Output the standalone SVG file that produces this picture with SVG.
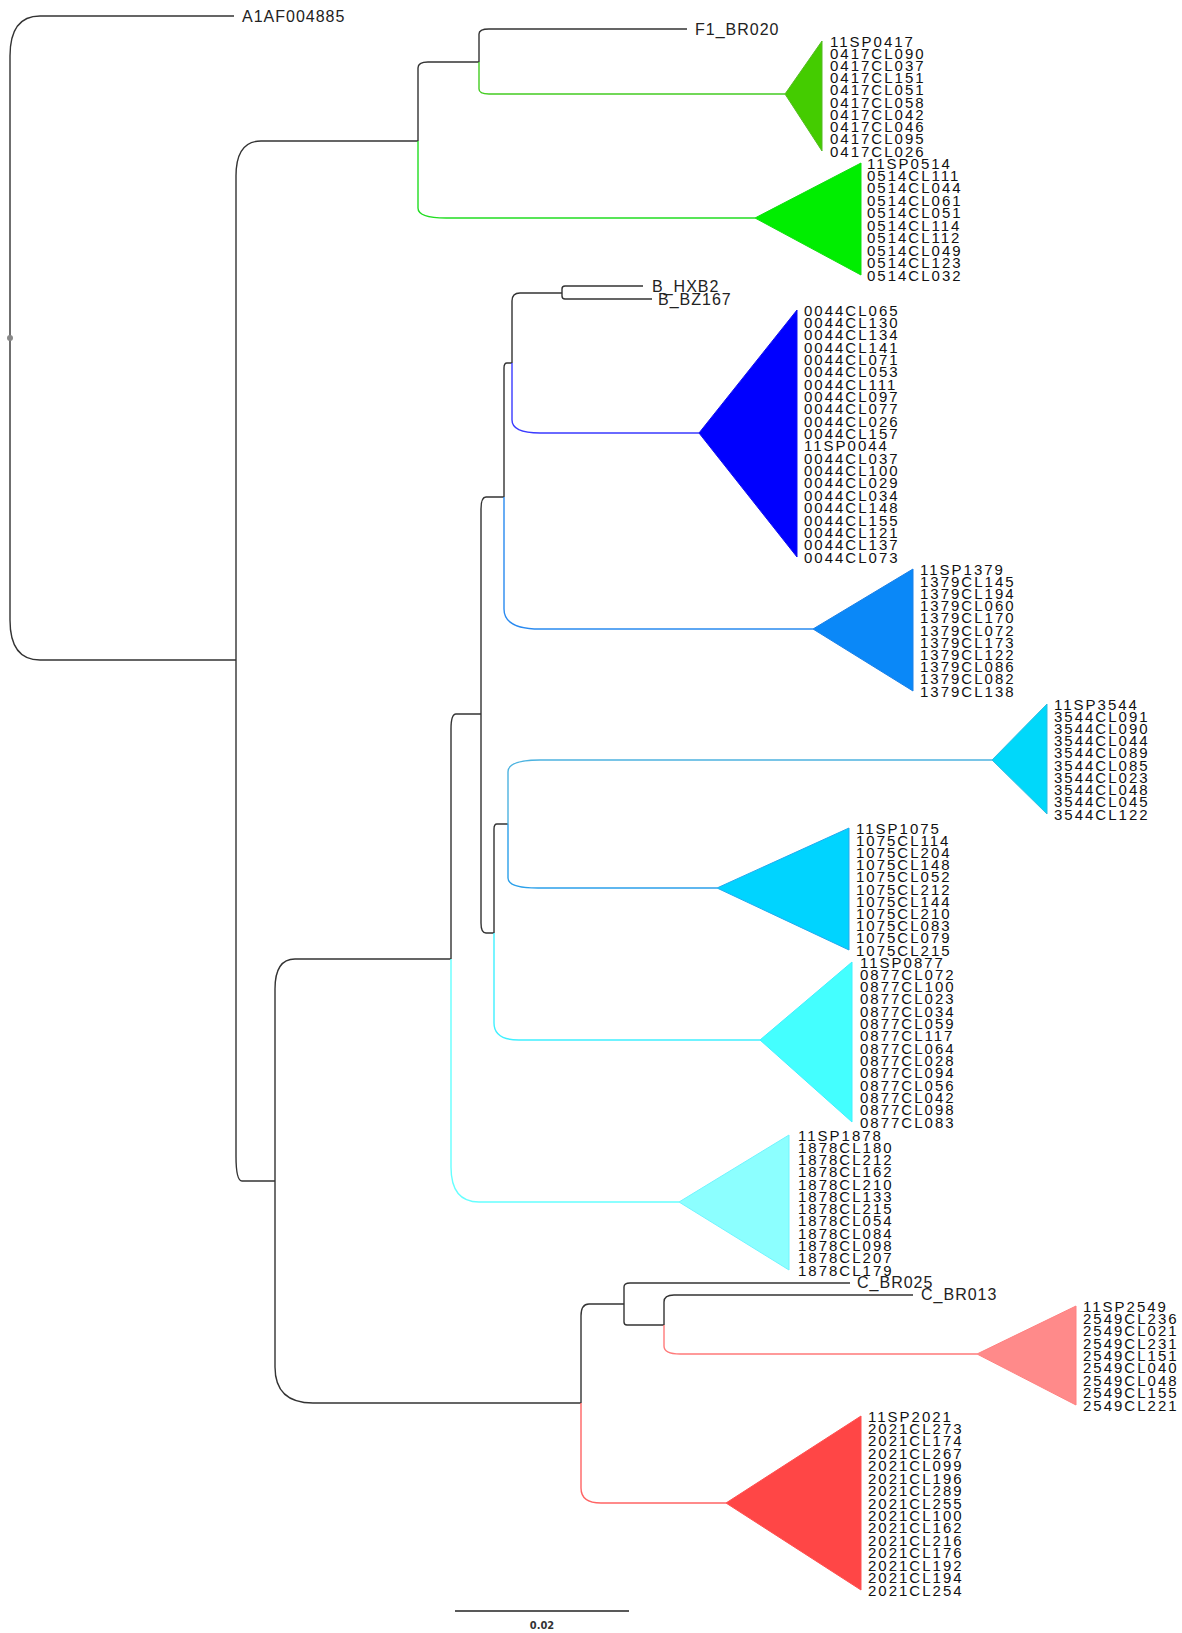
<svg xmlns="http://www.w3.org/2000/svg" width="1182" height="1633" viewBox="0 0 1182 1633">
<style>
.br{fill:none;stroke:#333;stroke-width:1.4}
.lf{font-family:"Liberation Sans",Arial,sans-serif;font-size:16px;letter-spacing:1px;fill:#222}
.cl{font-family:"Liberation Sans",Arial,sans-serif;font-size:15px;letter-spacing:2px;fill:#111}
.sc{font-family:"DejaVu Sans Condensed","Liberation Sans",sans-serif;font-size:11px;font-weight:bold;fill:#333}
</style>
<rect width="1182" height="1633" fill="#fff"/>
<g id="connectors">
<path class="br" d="M10 338 V56 Q10 16 40 16 H234"/>
<path class="br" d="M10 338 V620 Q10 660 40 660 H236"/>
<path class="br" d="M236 660 V176 Q236 141 261 141 H418"/>
<path class="br" d="M236 660 V1156 Q236 1181 242 1181 H275"/>
<path class="br" d="M418 141 V68 Q418 62 428 62 H479"/>
<path class="br" style="stroke:#22dd22" d="M418 141 V208 Q418 218 446 218 H755"/>
<path class="br" d="M479 62 V34 Q479 29 489 29 H687"/>
<path class="br" style="stroke:#44cc22" d="M479 62 V89 Q479 94 489 94 H785"/>
<path class="br" d="M275 1181 V989 Q275 959 295 959 H451"/>
<path class="br" d="M275 1181 V1367 Q275 1403 313 1403 H581"/>
<path class="br" d="M451 959 V729 Q451 714 456 714 H481"/>
<path class="br" style="stroke:#66ffff" d="M451 959 V1167 Q451 1202 479 1202 H679"/>
<path class="br" d="M481 714 V509 Q481 497 486 497 H504"/>
<path class="br" d="M481 714 V923 Q481 933 486 933 H494"/>
<path class="br" d="M504 497 V368 Q504 363 507 363 H512"/>
<path class="br" style="stroke:#2a8af0" d="M504 497 V609 Q504 629 540 629 H813"/>
<path class="br" d="M512 363 V301 Q512 293 520 293 H562"/>
<path class="br" style="stroke:#3a3aff" d="M512 363 V420 Q512 433 540 433 H699"/>
<path class="br" d="M562 293 V289 Q562 286 565 286 H643"/>
<path class="br" d="M562 293 V296 Q562 299 565 299 H652"/>
<path class="br" d="M494 933 V829 Q494 824 497 824 H508"/>
<path class="br" style="stroke:#40f0ff" d="M494 933 V1023 Q494 1040 519 1040 H760"/>
<path class="br" style="stroke:#4db3e0" d="M508 824 V772 Q508 760 540 760 H992"/>
<path class="br" style="stroke:#2ba0ea" d="M508 824 V878 Q508 888 538 888 H717"/>
<path class="br" d="M581 1403 V1316 Q581 1304 589 1304 H624"/>
<path class="br" style="stroke:#ff6464" d="M581 1403 V1488 Q581 1503 601 1503 H726"/>
<path class="br" d="M624 1304 V1287 Q624 1283 630 1283 H850"/>
<path class="br" d="M624 1304 V1322 Q624 1325 627 1325 H664"/>
<path class="br" d="M664 1325 V1302 Q664 1295 674 1295 H913"/>
<path class="br" style="stroke:#ff7a7a" d="M664 1325 V1346 Q664 1354 680 1354 H977"/>
</g>
<g id="root"><circle cx="10" cy="338" r="3" fill="#888"/></g>
<g id="A1AF004885"><text class="lf" x="242" y="22">A1AF004885</text></g>
<g id="F1_BR020"><text class="lf" x="695" y="35">F1_BR020</text></g>
<g id="B_HXB2"><text class="lf" x="652" y="292">B_HXB2</text></g>
<g id="B_BZ167"><text class="lf" x="658" y="305">B_BZ167</text></g>
<g id="C_BR025"><text class="lf" x="857" y="1288">C_BR025</text></g>
<g id="C_BR013"><text class="lf" x="921" y="1300">C_BR013</text></g>
<g id="clade0417">
<polygon points="785,94 822,41 822,151" fill="#44cc00" stroke="#55bb22"/>
<text class="cl"><tspan x="830" y="46.5">11SP0417</tspan><tspan x="830" y="58.7">0417CL090</tspan><tspan x="830" y="70.9">0417CL037</tspan><tspan x="830" y="83.2">0417CL151</tspan><tspan x="830" y="95.4">0417CL051</tspan><tspan x="830" y="107.6">0417CL058</tspan><tspan x="830" y="119.8">0417CL042</tspan><tspan x="830" y="132.1">0417CL046</tspan><tspan x="830" y="144.3">0417CL095</tspan><tspan x="830" y="156.5">0417CL026</tspan></text>
</g>
<g id="clade0514">
<polygon points="755,218 861,163 861,275" fill="#00ee00" stroke="#11dd11"/>
<text class="cl"><tspan x="867" y="168.5">11SP0514</tspan><tspan x="867" y="180.9">0514CL111</tspan><tspan x="867" y="193.4">0514CL044</tspan><tspan x="867" y="205.8">0514CL061</tspan><tspan x="867" y="218.3">0514CL051</tspan><tspan x="867" y="230.7">0514CL114</tspan><tspan x="867" y="243.2">0514CL112</tspan><tspan x="867" y="255.6">0514CL049</tspan><tspan x="867" y="268.1">0514CL123</tspan><tspan x="867" y="280.5">0514CL032</tspan></text>
</g>
<g id="clade0044">
<polygon points="699,433 797,310 797,557" fill="#0000ff" stroke="#1111ee"/>
<text class="cl"><tspan x="804" y="315.5">0044CL065</tspan><tspan x="804" y="327.9">0044CL130</tspan><tspan x="804" y="340.2">0044CL134</tspan><tspan x="804" y="352.6">0044CL141</tspan><tspan x="804" y="364.9">0044CL071</tspan><tspan x="804" y="377.3">0044CL053</tspan><tspan x="804" y="389.6">0044CL111</tspan><tspan x="804" y="402">0044CL097</tspan><tspan x="804" y="414.3">0044CL077</tspan><tspan x="804" y="426.7">0044CL026</tspan><tspan x="804" y="439">0044CL157</tspan><tspan x="804" y="451.4">11SP0044</tspan><tspan x="804" y="463.7">0044CL037</tspan><tspan x="804" y="476.1">0044CL100</tspan><tspan x="804" y="488.4">0044CL029</tspan><tspan x="804" y="500.8">0044CL034</tspan><tspan x="804" y="513.1">0044CL148</tspan><tspan x="804" y="525.5">0044CL155</tspan><tspan x="804" y="537.8">0044CL121</tspan><tspan x="804" y="550.2">0044CL137</tspan><tspan x="804" y="562.5">0044CL073</tspan></text>
</g>
<g id="clade1379">
<polygon points="813,629 913,569 913,691" fill="#0a88f8" stroke="#1a80e8"/>
<text class="cl"><tspan x="920" y="574.5">11SP1379</tspan><tspan x="920" y="586.7">1379CL145</tspan><tspan x="920" y="598.9">1379CL194</tspan><tspan x="920" y="611.1">1379CL060</tspan><tspan x="920" y="623.3">1379CL170</tspan><tspan x="920" y="635.5">1379CL072</tspan><tspan x="920" y="647.7">1379CL173</tspan><tspan x="920" y="659.9">1379CL122</tspan><tspan x="920" y="672.1">1379CL086</tspan><tspan x="920" y="684.3">1379CL082</tspan><tspan x="920" y="696.5">1379CL138</tspan></text>
</g>
<g id="clade3544">
<polygon points="992,760 1047,704 1047,814" fill="#00d8fa" stroke="#33bbe0"/>
<text class="cl"><tspan x="1054" y="709.5">11SP3544</tspan><tspan x="1054" y="721.7">3544CL091</tspan><tspan x="1054" y="733.9">3544CL090</tspan><tspan x="1054" y="746.2">3544CL044</tspan><tspan x="1054" y="758.4">3544CL089</tspan><tspan x="1054" y="770.6">3544CL085</tspan><tspan x="1054" y="782.8">3544CL023</tspan><tspan x="1054" y="795.1">3544CL048</tspan><tspan x="1054" y="807.3">3544CL045</tspan><tspan x="1054" y="819.5">3544CL122</tspan></text>
</g>
<g id="clade1075">
<polygon points="717,888 849,828 849,950" fill="#00d4ff" stroke="#22aaee"/>
<text class="cl"><tspan x="856" y="833.5">11SP1075</tspan><tspan x="856" y="845.7">1075CL114</tspan><tspan x="856" y="857.9">1075CL204</tspan><tspan x="856" y="870.1">1075CL148</tspan><tspan x="856" y="882.3">1075CL052</tspan><tspan x="856" y="894.5">1075CL212</tspan><tspan x="856" y="906.7">1075CL144</tspan><tspan x="856" y="918.9">1075CL210</tspan><tspan x="856" y="931.1">1075CL083</tspan><tspan x="856" y="943.3">1075CL079</tspan><tspan x="856" y="955.5">1075CL215</tspan></text>
</g>
<g id="clade0877">
<polygon points="760,1040 852,962 852,1122" fill="#44ffff" stroke="#40f0ff"/>
<text class="cl"><tspan x="860" y="967.5">11SP0877</tspan><tspan x="860" y="979.8">0877CL072</tspan><tspan x="860" y="992.1">0877CL100</tspan><tspan x="860" y="1004.4">0877CL023</tspan><tspan x="860" y="1016.7">0877CL034</tspan><tspan x="860" y="1029">0877CL059</tspan><tspan x="860" y="1041.3">0877CL117</tspan><tspan x="860" y="1053.7">0877CL064</tspan><tspan x="860" y="1066">0877CL028</tspan><tspan x="860" y="1078.3">0877CL094</tspan><tspan x="860" y="1090.6">0877CL056</tspan><tspan x="860" y="1102.9">0877CL042</tspan><tspan x="860" y="1115.2">0877CL098</tspan><tspan x="860" y="1127.5">0877CL083</tspan></text>
</g>
<g id="clade1878">
<polygon points="679,1202 789,1135 789,1270" fill="#8cffff" stroke="#70f4ff"/>
<text class="cl"><tspan x="798" y="1140.5">11SP1878</tspan><tspan x="798" y="1152.8">1878CL180</tspan><tspan x="798" y="1165">1878CL212</tspan><tspan x="798" y="1177.3">1878CL162</tspan><tspan x="798" y="1189.6">1878CL210</tspan><tspan x="798" y="1201.9">1878CL133</tspan><tspan x="798" y="1214.1">1878CL215</tspan><tspan x="798" y="1226.4">1878CL054</tspan><tspan x="798" y="1238.7">1878CL084</tspan><tspan x="798" y="1251">1878CL098</tspan><tspan x="798" y="1263.2">1878CL207</tspan><tspan x="798" y="1275.5">1878CL179</tspan></text>
</g>
<g id="clade2549">
<polygon points="977,1354 1076,1306 1076,1405" fill="#ff8a8a" stroke="#ff8080"/>
<text class="cl"><tspan x="1083" y="1311.5">11SP2549</tspan><tspan x="1083" y="1323.9">2549CL236</tspan><tspan x="1083" y="1336.3">2549CL021</tspan><tspan x="1083" y="1348.6">2549CL231</tspan><tspan x="1083" y="1361">2549CL151</tspan><tspan x="1083" y="1373.4">2549CL040</tspan><tspan x="1083" y="1385.8">2549CL048</tspan><tspan x="1083" y="1398.1">2549CL155</tspan><tspan x="1083" y="1410.5">2549CL221</tspan></text>
</g>
<g id="clade2021">
<polygon points="726,1503 861,1416 861,1590" fill="#ff4646" stroke="#ff5050"/>
<text class="cl"><tspan x="868" y="1421.5">11SP2021</tspan><tspan x="868" y="1433.9">2021CL273</tspan><tspan x="868" y="1446.4">2021CL174</tspan><tspan x="868" y="1458.8">2021CL267</tspan><tspan x="868" y="1471.2">2021CL099</tspan><tspan x="868" y="1483.6">2021CL196</tspan><tspan x="868" y="1496.1">2021CL289</tspan><tspan x="868" y="1508.5">2021CL255</tspan><tspan x="868" y="1520.9">2021CL100</tspan><tspan x="868" y="1533.4">2021CL162</tspan><tspan x="868" y="1545.8">2021CL216</tspan><tspan x="868" y="1558.2">2021CL176</tspan><tspan x="868" y="1570.6">2021CL192</tspan><tspan x="868" y="1583.1">2021CL194</tspan><tspan x="868" y="1595.5">2021CL254</tspan></text>
</g>
<g id="scalebar">
<line x1="455" y1="1611" x2="629" y2="1611" stroke="#222" stroke-width="1.3"/>
<text class="sc" x="542" y="1629" text-anchor="middle">0.02</text>
</g>
</svg>
